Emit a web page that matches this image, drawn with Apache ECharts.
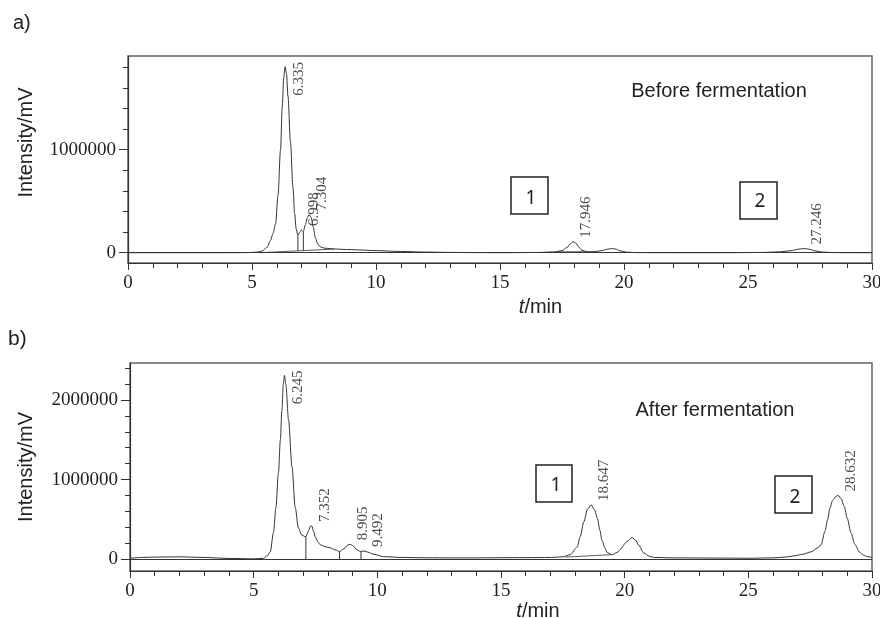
<!DOCTYPE html>
<html><head><meta charset="utf-8">
<script src="https://cdn.jsdelivr.net/npm/echarts@6/dist/echarts.min.js"></script>
<style>html,body{margin:0;padding:0;background:#fff}#c{width:880px;height:618px}</style>
</head><body><div id="c"></div>
<script>
// ---------- data ----------
const yLabelsA = [0, 1000000];
const yMinorA = [0, 200000, 400000, 600000, 800000, 1000000, 1200000, 1400000, 1600000, 1800000];
const yLabelsB = [0, 1000000, 2000000];
const yMinorB = [0, 200000, 400000, 600000, 800000, 1000000, 1200000, 1400000, 1600000, 1800000, 2000000, 2200000, 2400000];

const signalA = [[0,0],[1,0],[2,0],[3,0],[4,0],[4.8,1000],[5.2,5000],[5.4,15000],[5.6,50000],[5.75,120000],[5.85,190000],[5.95,280000],[6.05,560000],[6.15,1000000],[6.22,1420000],[6.28,1700000],[6.335,1806000],[6.39,1740000],[6.45,1520000],[6.55,1080000],[6.65,640000],[6.72,380000],[6.78,230000],[6.85,170000],[6.92,195000],[6.998,220000],[7.07,205000],[7.15,270000],[7.23,340000],[7.304,370000],[7.38,345000],[7.47,250000],[7.56,140000],[7.65,85000],[7.75,58000],[7.9,45000],[8.2,38000],[8.6,33000],[9.0,30000],[9.5,25000],[10,20000],[11,12000],[12,6000],[13,3000],[14,1000],[15,0],[16.5,2000],[17.2,8000],[17.5,20000],[17.7,50000],[17.85,90000],[17.946,107000],[18.05,95000],[18.18,55000],[18.3,25000],[18.5,10000],[18.8,10000],[19.1,20000],[19.35,35000],[19.5,40000],[19.65,36000],[19.85,18000],[20.1,5000],[20.5,1000],[22,0],[24,0],[25.5,2000],[26.3,8000],[26.8,22000],[27.05,35000],[27.246,40000],[27.45,35000],[27.7,18000],[28.0,6000],[28.5,1000],[29.2,0],[30,0]];
const peaksA = [[6.335,1806000],[6.998,220000],[7.304,370000],[17.946,107000],[27.246,40000]];
const integA = [[[5.3,0],[8.3,35000]],[[17.3,8000],[18.5,10000]]];
const dropsA = [[6.85,16000,170000],[7.07,18000,205000]];

const signalB = [[0,10000],[0.5,20000],[1,25000],[2,28000],[3,20000],[4,8000],[5,3000],[5.4,10000],[5.55,40000],[5.67,90000],[5.8,330000],[5.9,650000],[6.0,1080000],[6.08,1500000],[6.14,1870000],[6.2,2200000],[6.245,2310000],[6.3,2200000],[6.41,1750000],[6.55,1160000],[6.68,650000],[6.81,390000],[6.95,300000],[7.11,280000],[7.22,360000],[7.31,420000],[7.352,415000],[7.42,350000],[7.49,280000],[7.6,215000],[7.69,180000],[7.9,155000],[8.1,140000],[8.3,115000],[8.47,95000],[8.65,130000],[8.8,175000],[8.905,185000],[9.0,170000],[9.18,115000],[9.32,95000],[9.42,100000],[9.492,100000],[9.6,88000],[9.85,60000],[10.26,30000],[11,20000],[12,16000],[13,15000],[14,15000],[15,17000],[16,18000],[17,20000],[17.5,28000],[17.8,55000],[18.08,150000],[18.2,280000],[18.35,470000],[18.5,630000],[18.647,680000],[18.78,620000],[18.9,510000],[19.0,360000],[19.08,240000],[19.2,140000],[19.3,80000],[19.5,55000],[19.7,85000],[19.84,125000],[20.0,190000],[20.1,225000],[20.3,270000],[20.45,235000],[20.55,180000],[20.78,75000],[21.0,35000],[21.2,20000],[22,15000],[24,12000],[25,10000],[26,15000],[26.5,25000],[26.85,40000],[27.2,60000],[27.53,90000],[27.8,140000],[27.94,180000],[28.1,350000],[28.2,490000],[28.3,640000],[28.41,740000],[28.55,790000],[28.632,800000],[28.75,760000],[28.88,660000],[29.0,510000],[29.15,330000],[29.3,190000],[29.49,90000],[29.65,50000],[29.83,30000],[30,20000]];
const peaksB = [[6.245,2310000],[7.352,415000],[8.905,185000],[9.492,100000],[18.647,680000],[28.632,800000]];
const integB = [[[17.6,25000],[19.45,55000]]];
const dropsB = [[7.11,0,280000],[8.47,0,95000],[9.34,0,100000]];

// ---------- options ----------
const SERIF = 'Liberation Serif';
const SANS = 'Liberation Sans';
const INK = '#222';
const LINE = '#333';

function xAxisFor(gi, gap, shift) {
  return {
    type: 'value', gridIndex: gi, min: 0, max: 30, interval: 5, position: 'bottom',
    axisLine: { onZero: false, lineStyle: { color: LINE, width: 1.2 } },
    axisTick: { length: 7, lineStyle: { color: LINE } },
    minorTick: { show: true, splitNumber: 5, length: 5, lineStyle: { color: LINE } },
    splitLine: { show: false }, minorSplitLine: { show: false },
    axisLabel: { fontFamily: SERIF, fontSize: 19, color: INK, margin: 11 },
    name: '{i|t}/min', nameLocation: 'middle', nameGap: gap,
    nameTextStyle: { fontFamily: SANS, fontSize: 20, color: INK, padding: [0, 0, 0, shift],
      rich: { i: { fontFamily: SANS, fontSize: 20, fontStyle: 'italic', color: INK } } }
  };
}
function yAxesFor(gi, min, max, minor, labels, gap, shift) {
  return [{
    type: 'value', gridIndex: gi, min: min, max: max, position: 'left',
    axisLine: { show: true, onZero: false, lineStyle: { color: LINE, width: 1.2 } },
    axisTick: { show: true, length: 5, customValues: minor, lineStyle: { color: LINE } },
    axisLabel: { show: false }, splitLine: { show: false },
    name: 'Intensity/mV', nameLocation: 'middle', nameGap: gap, nameRotate: 90,
    nameTextStyle: { fontFamily: SANS, fontSize: 20, color: INK, padding: [0, 0, 0, shift] }
  }, {
    type: 'value', gridIndex: gi, min: min, max: max, position: 'left', offset: 0,
    axisLine: { show: false, onZero: false },
    axisTick: { show: true, length: 9, customValues: labels, lineStyle: { color: LINE } },
    axisLabel: { customValues: labels, fontFamily: SERIF, fontSize: 19, color: INK, margin: 12,
      formatter: v => String(v) },
    splitLine: { show: false }
  }];
}
function panelSeries(gi, signal, peaks, integ, drops) {
  const s = [];
  s.push({ type: 'line', xAxisIndex: gi, yAxisIndex: gi * 2, data: signal, showSymbol: false,
    smooth: 0.3, smoothMonotone: 'x', lineStyle: { color: LINE, width: 1 }, silent: true,
    markLine: { silent: true, symbol: 'none', label: { show: false },
      lineStyle: { color: LINE, width: 1, type: 'solid' }, data: [{ yAxis: 0 }] } });
  integ.forEach(seg => s.push({ type: 'line', xAxisIndex: gi, yAxisIndex: gi * 2, data: seg,
    showSymbol: false, lineStyle: { color: LINE, width: 0.8 }, silent: true }));
  drops.forEach(d => s.push({ type: 'line', xAxisIndex: gi, yAxisIndex: gi * 2,
    data: [[d[0], d[1]], [d[0], d[2]]], showSymbol: false, lineStyle: { color: LINE, width: 1 }, silent: true }));
  const top = Math.max(...peaks.map(p => p[1]));
  s.push({ type: 'scatter', xAxisIndex: gi, yAxisIndex: gi * 2, symbolSize: 1,
    itemStyle: { color: 'rgba(0,0,0,0)' }, silent: true,
    data: peaks.map(p => ({ value: p, label: { offset: p[1] === top ? [-29, 14] : [4, 13] } })),
    label: { show: true, position: 'inside', rotate: 90, align: 'left', verticalAlign: 'middle',
      fontFamily: SERIF, fontSize: 15, color: INK, formatter: prm => prm.value[0].toFixed(3) } });
  return s;
}

const boxStyle = { fill: 'none', stroke: INK, lineWidth: 1.5 };
const numStyle = (x, y, t) => ({ type: 'text', x: x, y: y, style: { text: t, font: '19px "Noto Sans"', fill: INK, textAlign: 'center', textVerticalAlign: 'middle' } });

const option = {
  animation: false,
  backgroundColor: '#fff',
  grid: [
    { left: 128, right: 8, top: 56, height: 207, show: true, borderColor: '#666', borderWidth: 1.5, backgroundColor: 'transparent', containLabel: false, outerBoundsMode: 'none' },
    { left: 130, right: 8, top: 363, height: 208, show: true, borderColor: '#666', borderWidth: 1.5, backgroundColor: 'transparent', containLabel: false, outerBoundsMode: 'none' }
  ],
  xAxis: [xAxisFor(0, 34, 81), xAxisFor(1, 27, 74)],
  yAxis: [...yAxesFor(0, -100000, 1910000, yMinorA, yLabelsA, 92, 34),
          ...yAxesFor(1, -150000, 2465000, yMinorB, yLabelsB, 94, 0)],
  series: [...panelSeries(0, signalA, peaksA, integA, dropsA),
           ...panelSeries(1, signalB, peaksB, integB, dropsB)],
  graphic: [
    { type: 'text', x: 13, y: 23, style: { text: 'a)', font: '20px "Liberation Sans"', fill: INK, textVerticalAlign: 'middle' } },
    { type: 'text', x: 8, y: 339, style: { text: 'b)', font: '21px "Liberation Sans"', fill: INK, textVerticalAlign: 'middle' } },
    { type: 'text', x: 719, y: 91, style: { text: 'Before fermentation', font: '20px "Liberation Sans"', fill: INK, textAlign: 'center', textVerticalAlign: 'middle' } },
    { type: 'text', x: 715, y: 410, style: { text: 'After fermentation', font: '20px "Liberation Sans"', fill: INK, textAlign: 'center', textVerticalAlign: 'middle' } },
    { type: 'rect', shape: { x: 511, y: 177, width: 37, height: 37 }, style: boxStyle },
    numStyle(531, 199, '1'),
    { type: 'rect', shape: { x: 740, y: 182, width: 37, height: 37 }, style: boxStyle },
    numStyle(760, 202, '2'),
    { type: 'rect', shape: { x: 536, y: 465, width: 36, height: 37 }, style: boxStyle },
    numStyle(556, 486, '1'),
    { type: 'rect', shape: { x: 775, y: 476, width: 37, height: 37 }, style: boxStyle },
    numStyle(795, 498, '2')
  ]
};
const chart = echarts.init(document.getElementById('c'), null, { renderer: 'canvas' });
chart.setOption(option);
</script>
</body></html>
